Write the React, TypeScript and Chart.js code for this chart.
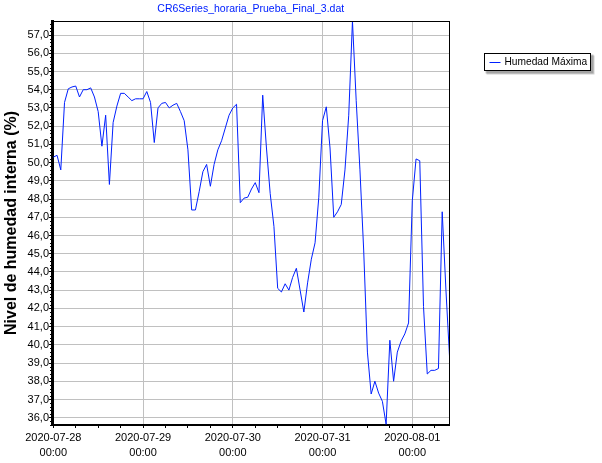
import React, { useEffect, useRef } from 'react';
import { Chart, registerables } from 'chart.js';

Chart.register(...registerables);

// ---- data ----
const chartTitle = 'CR6Series_horaria_Prueba_Final_3.dat';
const seriesLabel = 'Humedad Máxima';
const yAxisLabel = 'Nivel de humedad interna (%)';
const startDateUTC = Date.UTC(2020, 6, 28, 0, 0); // 2020-07-28 00:00, one sample per hour
const hourlyHumidity = [
  50.3, 50.4, 49.6, 53.3, 54.05, 54.15, 54.2, 53.6, 54.0, 54.0,
  54.1, 53.6, 52.8, 50.9, 52.6, 48.8, 52.2, 53.1, 53.8, 53.8,
  53.6, 53.4, 53.5, 53.5, 53.5, 53.9, 53.3, 51.1, 53.0, 53.25,
  53.3, 53.0, 53.15, 53.25, 52.8, 52.3, 50.7, 47.4, 47.4, 48.4,
  49.5, 49.9, 48.7, 49.9, 50.7, 51.2, 51.9, 52.6, 53.0, 53.2,
  47.8, 48.05, 48.1, 48.55, 48.9, 48.35, 53.7, 50.8, 48.3, 46.5,
  43.1, 42.9, 43.35, 43.0, 43.7, 44.2, 43.0, 41.8, 43.4, 44.7,
  45.6, 48.1, 52.3, 53.06, 50.8, 47.0, 47.3, 47.7, 49.6, 52.6,
  57.77, 53.4, 49.6, 45.2, 39.6, 37.3, 38.0, 37.35, 36.9, 35.64,
  40.25, 38.0, 39.6, 40.2, 40.6, 41.2, 47.9, 50.2, 50.1, 42.1,
  38.4, 38.6, 38.6, 38.7, 47.3, 43.0, 39.2,
];
const yMin = 35.6;
const yMax = 57.77;
const xMinHours = -0.35;
const xMaxHours = 105.95;
const xStepHours = 6;
const xLabelEveryHours = 24;

const lineColor = '#0020ff';
const titleColor = '#0020ff';
const gridColor = '#c0c0c0';
const FONT = '"Liberation Sans", Arial, sans-serif';

function formatStamp(hours: number): string[] {
  const d = new Date(startDateUTC + hours * 3600000);
  const p = (n: number) => String(n).padStart(2, '0');
  return [
    `${d.getUTCFullYear()}-${p(d.getUTCMonth() + 1)}-${p(d.getUTCDate())}`,
    `${p(d.getUTCHours())}:${p(d.getUTCMinutes())}`,
  ];
}

const decorations = {
  id: 'decorations',
  afterDraw(chart: any) {
    const { ctx, chartArea: a, scales } = chart;
    ctx.save();
    // top & right frame
    ctx.strokeStyle = '#000';
    ctx.lineWidth = 1;
    ctx.beginPath();
    ctx.moveTo(a.left, a.top + 0.5);
    ctx.lineTo(a.right + 0.5, a.top + 0.5);
    ctx.moveTo(a.right, a.top);
    ctx.lineTo(a.right, a.bottom);
    ctx.stroke();

    // minor ticks on the y axis (every 0.2)
    ctx.fillStyle = '#000';
    const ys = scales.y;
    for (let k = Math.ceil(ys.min * 5); k <= Math.floor(ys.max * 5); k++) {
      if (k % 5 === 0) continue;
      const y = Math.round(ys.getPixelForValue(k / 5));
      ctx.fillRect(a.left - 2, y, 1, 1);
    }

    // title
    ctx.font = `10.5px ${FONT}`;
    ctx.fillStyle = titleColor;
    ctx.textAlign = 'center';
    ctx.textBaseline = 'middle';
    ctx.fillText(chartTitle, (a.left + a.right) / 2, 9);

    // legend box with shadow
    const ds = chart.data.datasets[0];
    const bx = 484.5, by = 53.5, bw = 106, bh = 17;
    ctx.fillStyle = 'rgba(0,0,0,0.18)';
    ctx.fillRect(bx + 2, by + 2, bw + 2, bh + 2);
    ctx.fillStyle = 'rgba(0,0,0,0.22)';
    ctx.fillRect(bx + 1, by + 1, bw + 2, bh + 2);
    ctx.fillStyle = '#fff';
    ctx.fillRect(bx, by, bw, bh);
    ctx.strokeStyle = '#000';
    ctx.strokeRect(bx, by, bw, bh);
    ctx.strokeStyle = ds.borderColor;
    ctx.beginPath();
    ctx.moveTo(bx + 5, by + 9);
    ctx.lineTo(bx + 16, by + 9);
    ctx.stroke();
    ctx.font = `10.2px ${FONT}`;
    ctx.fillStyle = '#000';
    ctx.textAlign = 'left';
    ctx.textBaseline = 'middle';
    ctx.fillText(ds.label, bx + 20, by + 9);
    ctx.restore();
  },
};

export default function App() {
  const ref = useRef<HTMLCanvasElement | null>(null);

  useEffect(() => {
    if (!ref.current) return;
    const chart = new Chart(ref.current, {
      type: 'line',
      data: {
        datasets: [
          {
            label: seriesLabel,
            data: hourlyHumidity.map((v, i) => ({ x: i, y: v })),
            borderColor: lineColor,
            borderWidth: 1,
            pointRadius: 0,
            fill: false,
            tension: 0,
          },
        ],
      },
      options: {
        animation: false,
        responsive: false,
        devicePixelRatio: 1,
        layout: { padding: { top: 21, right: 152.5, bottom: 0, left: 0 } },
        plugins: {
          legend: { display: false },
          title: { display: false },
          tooltip: { enabled: false },
        },
        scales: {
          x: {
            type: 'linear',
            min: xMinHours,
            max: xMaxHours,
            afterFit: (s: any) => {
              s.height = 38;
            },
            border: { display: true, color: '#000', width: 2 },
            grid: {
              color: (c: any) =>
                c.tick && c.tick.value % xLabelEveryHours === 0 ? gridColor : 'rgba(0,0,0,0)',
              tickColor: '#000',
              tickLength: 3,
              lineWidth: 1,
            },
            ticks: {
              stepSize: xStepHours,
              autoSkip: false,
              maxRotation: 0,
              includeBounds: false,
              color: '#000',
              padding: 2,
              font: { family: FONT, size: 11, lineHeight: 1.4 },
              callback: (v: any) => (Number(v) % xLabelEveryHours === 0 ? formatStamp(Number(v)) : ''),
            },
          },
          y: {
            type: 'linear',
            min: yMin,
            max: yMax,
            afterFit: (s: any) => {
              s.width = 52;
            },
            border: { display: true, color: '#000', width: 3 },
            grid: { color: gridColor, tickColor: '#000', tickLength: 3, lineWidth: 1 },
            title: {
              display: true,
              text: yAxisLabel,
              color: '#000',
              font: { family: FONT, size: 16, weight: 'bold' },
              padding: { top: 2, bottom: 0 },
            },
            ticks: {
              stepSize: 1,
              includeBounds: false,
              autoSkip: false,
              color: '#000',
              padding: 0,
              font: { family: FONT, size: 11 },
              callback: (v: any) => Number(v).toFixed(1).replace('.', ','),
            },
          },
        },
      },
      plugins: [decorations],
    });
    return () => chart.destroy();
  }, []);

  return (
    <div style={{ position: 'absolute', left: 0, top: 0, width: 602, height: 463, background: '#fff' }}>
      <canvas ref={ref} width={602} height={463} style={{ display: 'block' }} />
    </div>
  );
}
